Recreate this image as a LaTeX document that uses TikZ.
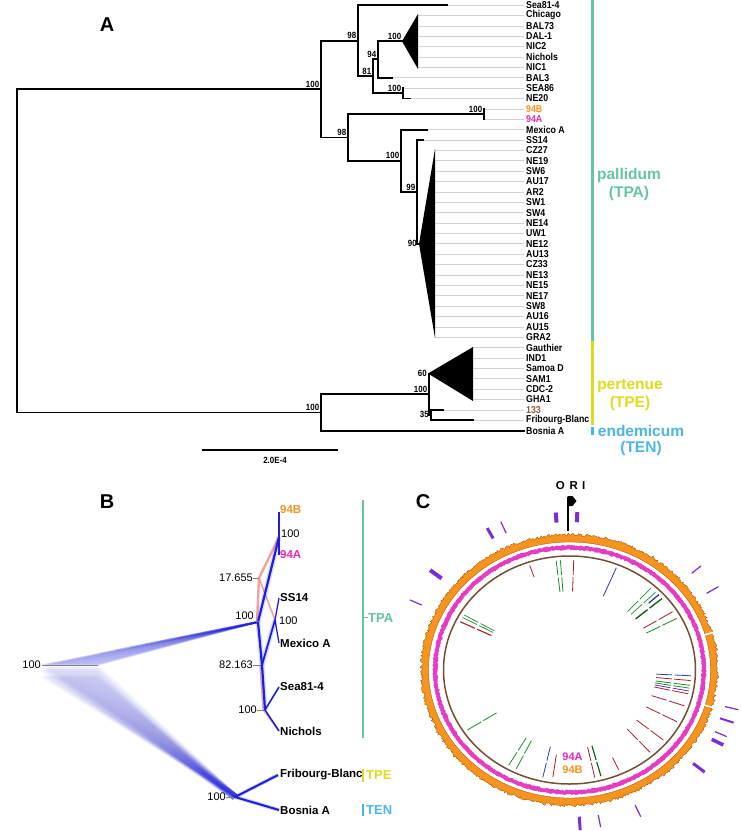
\documentclass[tikz,border=0pt]{standalone}
\usepackage{fontspec}
\setmainfont{Liberation Sans}
\newfontfamily\labfont[FakeStretch=0.88]{Liberation Sans}
\definecolor{tealC}{RGB}{102,196,166}
\definecolor{yelC}{RGB}{222,220,30}
\definecolor{skyC}{RGB}{74,182,232}
\definecolor{oraC}{RGB}{247,148,30}
\definecolor{magC}{RGB}{232,40,176}
\definecolor{ringmag}{RGB}{228,60,196}
\definecolor{brnC}{RGB}{139,94,60}
\definecolor{ringbrown}{RGB}{115,80,50}
\definecolor{purpC}{RGB}{122,44,214}
\definecolor{redC}{RGB}{170,30,40}
\definecolor{grnC}{RGB}{30,140,40}
\definecolor{bluC}{RGB}{40,60,170}
\definecolor{treeblue}{RGB}{30,30,225}
\definecolor{salmonC}{RGB}{240,140,130}
\newcommand{\myseg}[5]{\draw[#4,line width=#5] ({569.5+126*(#2)*cos(#1)},{670-114*(#2)*sin(#1)}) -- ({569.5+126*(#3)*cos(#1)},{670-114*(#3)*sin(#1)});}
\newcommand{\mypair}[3]{\myseg{#1}{0.965}{0.835}{#2}{#3}\myseg{#1}{0.815}{0.69}{#2}{#3}}
\newcommand{\mymark}[4]{\draw[purpC,line width=#4] ({569.5+150*(#2)*cos(#1)},{670-137.5*(#2)*sin(#1)}) -- ({569.5+150*(#3)*cos(#1)},{670-137.5*(#3)*sin(#1)});}
\begin{document}
\begin{tikzpicture}[x=1pt,y=-1pt,
  tree/.style={line width=1.8pt,line cap=rect},
  lead/.style={gray!35,line width=0.5pt},
  tax/.style={anchor=west,inner sep=0pt,font=\labfont\bfseries\fontsize{10}{10}\selectfont},
  bs/.style={inner sep=0.6pt,font=\labfont\bfseries\fontsize{9}{9}\selectfont},
  panel/.style={font=\bfseries\fontsize{20}{22}\selectfont,inner sep=0pt},
  clade/.style={font=\bfseries\fontsize{15.5}{17}\selectfont,inner sep=0pt},
  btax/.style={anchor=west,inner sep=0pt,font=\bfseries\fontsize{11.5}{12}\selectfont},
  bnum/.style={inner sep=0pt,font=\fontsize{11}{12}\selectfont},
  bsub/.style={anchor=west,inner sep=0pt,font=\bfseries\fontsize{13}{14}\selectfont},
  tick/.style={gray,line width=0.8pt},
  bbr/.style={treeblue,line width=2.2pt},
  bsh/.style={treeblue,line width=5pt,opacity=0.15}
]
\useasboundingbox (0,0) rectangle (740,831);
\fill[white] (0,0) rectangle (740,831);

% ================= PANEL A =================
\node[panel] (lA) at (107,25) {A};
\foreach \i/\s in {0/447,1/418,2/418,3/418,4/418,5/418,6/418,7/392,8/403,9/410,10/484,11/484,12/427,13/423,14/435,15/435,16/435,17/435,18/435,19/435,20/435,21/435,22/435,23/435,24/435,25/435,26/435,27/435,28/435,29/435,30/435,31/435,32/435,33/473,34/473,35/473,36/473,37/473,38/473,39/443,40/473}
  \draw[lead] (\s,{5+10.38*\i}) -- (524,{5+10.38*\i});
\draw[tree] (17,89) -- (17,412.4);
\draw[tree] (17,89) -- (321,89);
\draw[tree] (17,412.4) -- (321,412.4);
\draw[tree] (321,40.6) -- (321,137.4);
\draw[tree] (321,40.6) -- (358,40.6);
\draw[tree] (358,5) -- (358,76.3);
\draw[tree] (358,5) -- (447,5);
\draw[tree] (358,76.3) -- (373,76.3);
\draw[tree] (373,59.3) -- (373,93.2);
\draw[tree] (373,59.3) -- (378,59.3);
\draw[tree] (378,41.3) -- (378,77.7);
\draw[tree] (378,41.3) -- (402,41.3);
\draw[tree] (378,77.7) -- (392,77.7);
\fill (402,41.3) -- (418,14) -- (418,69) -- cycle;
\draw[tree] (373,93.2) -- (403,93.2);
\draw[tree] (403,88) -- (403,98.4);
\draw[tree] (403,98.4) -- (410,98.4);
\draw[tree] (321,137.4) -- (348,137.4);
\draw[tree] (348,114) -- (348,160.7);
\draw[tree] (348,114) -- (484,114);
\draw[tree] (484,108.8) -- (484,119.2);
\draw[tree] (348,160.7) -- (401,160.7);
\draw[tree] (401,129.6) -- (401,191.9);
\draw[tree] (401,129.6) -- (427,129.6);
\draw[tree] (401,191.9) -- (417,191.9);
\draw[tree] (417,139.9) -- (417,243.8);
\draw[tree] (417,139.9) -- (423,139.9);
\draw[tree] (417,243.8) -- (420,243.8);
\fill (419,243.8) -- (435,149) -- (435,338) -- cycle;
\draw[tree] (321,394.2) -- (321,430.6);
\draw[tree] (321,394.2) -- (429,394.2);
\draw[tree] (321,430.6) -- (524,430.6);
\draw[tree] (429,373.5) -- (429,415);
\fill (428,373.5) -- (473,347) -- (473,401) -- cycle;
\draw[tree] (429,415) -- (431,415);
\draw[tree] (431,409.8) -- (431,420.2);
\draw[tree] (431,409.8) -- (443,409.8);
\draw[tree] (431,420.2) -- (473,420.2);
\node[bs,anchor=south east] (b1) at (320,88) {100};
\node[bs,anchor=south east] (b2) at (357,39.5) {98};
\node[bs,anchor=south east] (b3) at (377,58) {94};
\node[bs,anchor=south east] (b4) at (372,75) {81};
\node[bs,anchor=south east] (b5) at (402,40) {100};
\node[bs,anchor=south east] (b6) at (402,92) {100};
\node[bs,anchor=south east] (b7) at (483,113) {100};
\node[bs,anchor=south east] (b8) at (347,136.5) {98};
\node[bs,anchor=south east] (b9) at (400,159.5) {100};
\node[bs,anchor=south east] (b10) at (416,191) {99};
\node[bs,anchor=east] (b11) at (417.5,243.8) {90};
\node[bs,anchor=east] (b12) at (427.5,373.5) {60};
\node[bs,anchor=south east] (b13) at (428,393.5) {100};
\node[bs,anchor=east] (b14) at (429.5,414.5) {35};
\node[bs,anchor=south east] (b15) at (320,411.5) {100};
\draw[line width=1.4pt] (202,450) -- (338,450);
\node[bs] (sc) at (275,460) {2.0E-4};
\foreach \i/\t/\c in {0/Sea81-4/black,1/Chicago/black,2/BAL73/black,3/DAL-1/black,4/NIC2/black,5/Nichols/black,6/NIC1/black,7/BAL3/black,8/SEA86/black,9/NE20/black,10/94B/oraC,11/94A/magC,12/Mexico A/black,13/SS14/black,14/CZ27/black,15/NE19/black,16/SW6/black,17/AU17/black,18/AR2/black,19/SW1/black,20/SW4/black,21/NE14/black,22/UW1/black,23/NE12/black,24/AU13/black,25/CZ33/black,26/NE13/black,27/NE15/black,28/NE17/black,29/SW8/black,30/AU16/black,31/AU15/black,32/GRA2/black,33/Gauthier/black,34/IND1/black,35/Samoa D/black,36/SAM1/black,37/CDC-2/black,38/GHA1/black,39/133/brnC,40/Fribourg-Blanc/black,41/Bosnia A/black}
  \node[tax,text=\c] (ta\i) at (526,{5+10.38*\i}) {\t};
\draw[tealC,line width=3pt] (592,0) -- (592,340.5);
\draw[yelC,line width=3pt] (592,340.5) -- (592,425);
\draw[skyC,line width=3pt] (592,427) -- (592,435);
\node[clade,text=tealC] (cp1) at (629,175) {pallidum};
\node[clade,text=tealC] (cp2) at (629,193) {(TPA)};
\node[clade,text=yelC] (ce1) at (630,386) {pertenue};
\node[clade,text=yelC] (ce2) at (630,403) {(TPE)};
\node[clade,text=skyC] (cn1) at (641,431) {endemicum};
\node[clade,text=skyC] (cn2) at (641,448) {(TEN)};

% ================= PANEL B =================
\node[panel] (lB) at (107,502) {B};
% lower haze
\foreach \x in {42,43.5,...,98} {
  \draw[treeblue,opacity=0.018,line width=7pt] (\x,668) -- (235,797);
  \draw[treeblue,opacity=0.018,line width=4pt] (\x,676) -- (236,796);
}
\foreach \x in {150,160,...,220}
  \draw[treeblue,opacity=0.05,line width=2.5pt] (\x,{797-(235-\x)*0.68}) -- (235,797);
% upper fan
\foreach \x in {42,43,...,98}
  \draw[treeblue,opacity=0.04,line width=1.8pt] (\x,665) -- (258,622);
\foreach \x in {100,115,...,220}
  \draw[treeblue,opacity=0.08,line width=2pt] (\x,{665-(\x-42)*0.2}) -- (258,622);
\draw[gray,line width=0.9pt] (42,665) -- (98,665);
% pink alternatives
\draw[salmonC,line width=2.4pt,opacity=0.8] (257,622) -- (259,578) -- (279,537);
\draw[salmonC,line width=1.6pt,opacity=0.8] (259,578) -- (275,620);
\draw[salmonC,line width=1.4pt,opacity=0.6] (260,665) -- (263,710) -- (279,731);
% blue consensus
\coordinate (nTPA) at (258,622);
\coordinate (n94) at (279,537);
\coordinate (nMx) at (275,620);
\coordinate (n82) at (262,665);
\coordinate (nSN) at (265,710);
\coordinate (nTE) at (235,797);
\draw[bsh] (nTPA) -- (n94);
\draw[bsh] (nTPA) -- (n82) -- (nSN);
\draw[bsh] (n82) -- (nMx);
\draw[bbr] (nTPA) -- (n94);
\draw[bbr] (nTPA) -- (n82) -- (nSN);
\draw[bbr,line width=1.8pt] (n82) -- (nMx);
\draw[treeblue,line width=1.3pt] (279,512) -- (n94) -- (279,555);
\draw[treeblue,line width=1.3pt] (279,598) -- (nMx) -- (279,643);
\draw[treeblue,line width=1.6pt] (279,687) -- (nSN) -- (279,731);
\draw[treeblue,line width=2pt] (278,775) -- (nTE) -- (279,810);
\draw[treeblue,opacity=0.2,line width=4pt] (278,775) -- (nTE) -- (279,810);
\draw[tick] (253,578) -- (259,578);
\draw[tick] (253,665) -- (261,665);
\draw[tick] (254,621) -- (260,621);
\draw[tick] (257,710) -- (264,710);
\draw[tick] (226,797) -- (234,797);
\node[bnum,anchor=east] (m1) at (41,665) {100};
\node[bnum,anchor=east] (m2) at (254,616) {100};
\node[bnum,anchor=east] (m3) at (253,578) {17.655};
\node[bnum,anchor=east] (m4) at (253,665) {82.163};
\node[bnum,anchor=east] (m5) at (257,710) {100};
\node[bnum,anchor=east] (m6) at (226,797) {100};
\node[bnum,anchor=west] (m7) at (281,534) {100};
\node[bnum,anchor=west] (m8) at (279,621) {100};
\node[btax,text=oraC] (bt1) at (280,510) {94B};
\node[btax,text=magC] (bt2) at (280,555) {94A};
\node[btax] (bt3) at (280,598) {SS14};
\node[btax] (bt4) at (280,643) {Mexico A};
\node[btax] (bt5) at (280,687) {Sea81-4};
\node[btax] (bt6) at (280,731) {Nichols};
\node[btax] (bt7) at (280,775) {Fribourg-Blanc};
\node[btax] (bt8) at (280,810) {Bosnia A};
\draw[tealC,line width=2.4pt] (363,500) -- (363,738);
\draw[tealC,line width=1pt] (363,617) -- (367.5,617);
\node[bsub,text=tealC] (s1) at (368,618) {TPA};
\draw[yelC,line width=2.4pt] (363,769) -- (363,782);
\node[bsub,text=yelC] (s2) at (366,775.5) {TPE};
\draw[skyC,line width=2.4pt] (363,804) -- (363,816);
\node[bsub,text=skyC] (s3) at (366,810.5) {TEN};

% ================= PANEL C =================
\node[panel] (lC) at (423,502) {C};
\pgfmathsetseed{11}
\fill[oraC,even odd rule,draw=orange!60!black,line width=0.3pt]
  plot[domain=0:359.5,samples=720,variable=\t] ({569.5+(146.5+3.2*rnd)*cos(\t)},{670+(134+3.2*rnd)*sin(\t)}) -- cycle
  (569.5,670) ellipse [x radius=141pt,y radius=128pt];
\draw[white,line width=1.5pt] ({569.5+139*cos(16)},{670-126*sin(16)}) -- ({569.5+152*cos(16)},{670-139*sin(16)});
\draw[white,line width=1.5pt] ({569.5+139*cos(-16)},{670-126*sin(-16)}) -- ({569.5+152*cos(-16)},{670-139*sin(-16)});
\fill[ringmag,even odd rule]
  plot[domain=0:359.5,samples=720,variable=\t] ({569.5+(136+1.2*rnd)*cos(\t)},{670+(124+1.2*rnd)*sin(\t)}) -- cycle
  plot[domain=0:359.5,samples=720,variable=\t] ({569.5+(131.5+1.5*rnd)*cos(\t)},{670+(119.5+1.5*rnd)*sin(\t)}) -- cycle;
\draw[ringbrown,line width=1.5pt] (569.5,670) ellipse [x radius=126pt,y radius=114pt];
\myseg{109}{0.97}{0.86}{redC}{0.8pt}
\mypair{94.3}{grnC}{0.8pt}
\mypair{96.3}{grnC}{0.8pt}
\mypair{88}{redC}{0.8pt}
\myseg{67.5}{0.97}{0.70}{bluC}{0.8pt}
\mypair{48}{grnC}{0.7pt}
\mypair{45}{grnC}{0.7pt}
\myseg{43}{0.97}{0.86}{bluC}{1.3pt}
\mypair{40.5}{grnC!70!black}{1.4pt}
\mypair{32}{redC}{0.8pt}
\mypair{28}{grnC}{0.8pt}
\mypair{150}{grnC}{0.7pt}
\mypair{151.5}{grnC}{0.7pt}
\mypair{154}{redC}{1.1pt}
\mypair{-3}{bluC}{0.8pt}
\mypair{-5.5}{redC}{0.8pt}
\mypair{-8}{grnC}{0.8pt}
\mypair{-9.5}{grnC}{0.8pt}
\mypair{-11}{purpC!60!bluC}{0.8pt}
\mypair{-12.5}{redC}{0.8pt}
\mypair{-19}{redC}{0.8pt}
\mypair{-28}{redC}{0.8pt}
\mypair{-39.5}{redC}{0.8pt}
\mypair{-48.5}{redC}{0.8pt}
\myseg{-66}{0.96}{0.84}{redC}{0.8pt}
\mypair{-75}{grnC!70!black}{1.2pt}
\mypair{-78}{redC}{0.8pt}
\myseg{-98}{0.95}{0.75}{redC}{0.8pt}
\mypair{-102.7}{bluC}{0.8pt}
\mypair{-116}{grnC}{0.8pt}
\mypair{-120}{grnC}{0.8pt}
\mypair{-147}{grnC}{0.8pt}
\mymark{94.6}{1.076}{1.149}{4pt}
\mymark{87.4}{1.076}{1.149}{4pt}
\mymark{118}{1.084}{1.169}{3pt}
\mymark{113}{1.08}{1.172}{1.2pt}
\mymark{142}{1.082}{1.18}{4pt}
\mymark{154.4}{1.093}{1.179}{1.2pt}
\mymark{40.8}{1.076}{1.158}{1.2pt}
\mymark{31.4}{1.071}{1.163}{1.2pt}
\mymark{-14.4}{1.071}{1.162}{1.2pt}
\mymark{-19.3}{1.063}{1.159}{2pt}
\mymark{-24.8}{1.069}{1.155}{1.2pt}
\mymark{-28}{1.074}{1.161}{3.5pt}
\mymark{-39.5}{1.068}{1.168}{3pt}
\mymark{-66}{1.075}{1.168}{1.2pt}
\mymark{-79.7}{1.072}{1.161}{1.2pt}
\mymark{-86.5}{1.069}{1.167}{3pt}
\node[inner sep=0pt,font=\bfseries\fontsize{11.5}{12}\selectfont] (ori) at (570.5,486) {O\hspace{5pt}R\hspace{4pt}I};
\draw[line width=2pt] (568,497) -- (568,531);
\fill (567.5,496) -- (572.5,496) -- (576.5,501) -- (572.5,506) -- (567.5,506) -- cycle;
\node[inner sep=0pt,text=magC,font=\bfseries\fontsize{11}{12}\selectfont] (c94a) at (572.5,757) {94A};
\node[inner sep=0pt,text=oraC,font=\bfseries\fontsize{11}{12}\selectfont] (c94b) at (572.5,770) {94B};
\end{tikzpicture}
\end{document}
